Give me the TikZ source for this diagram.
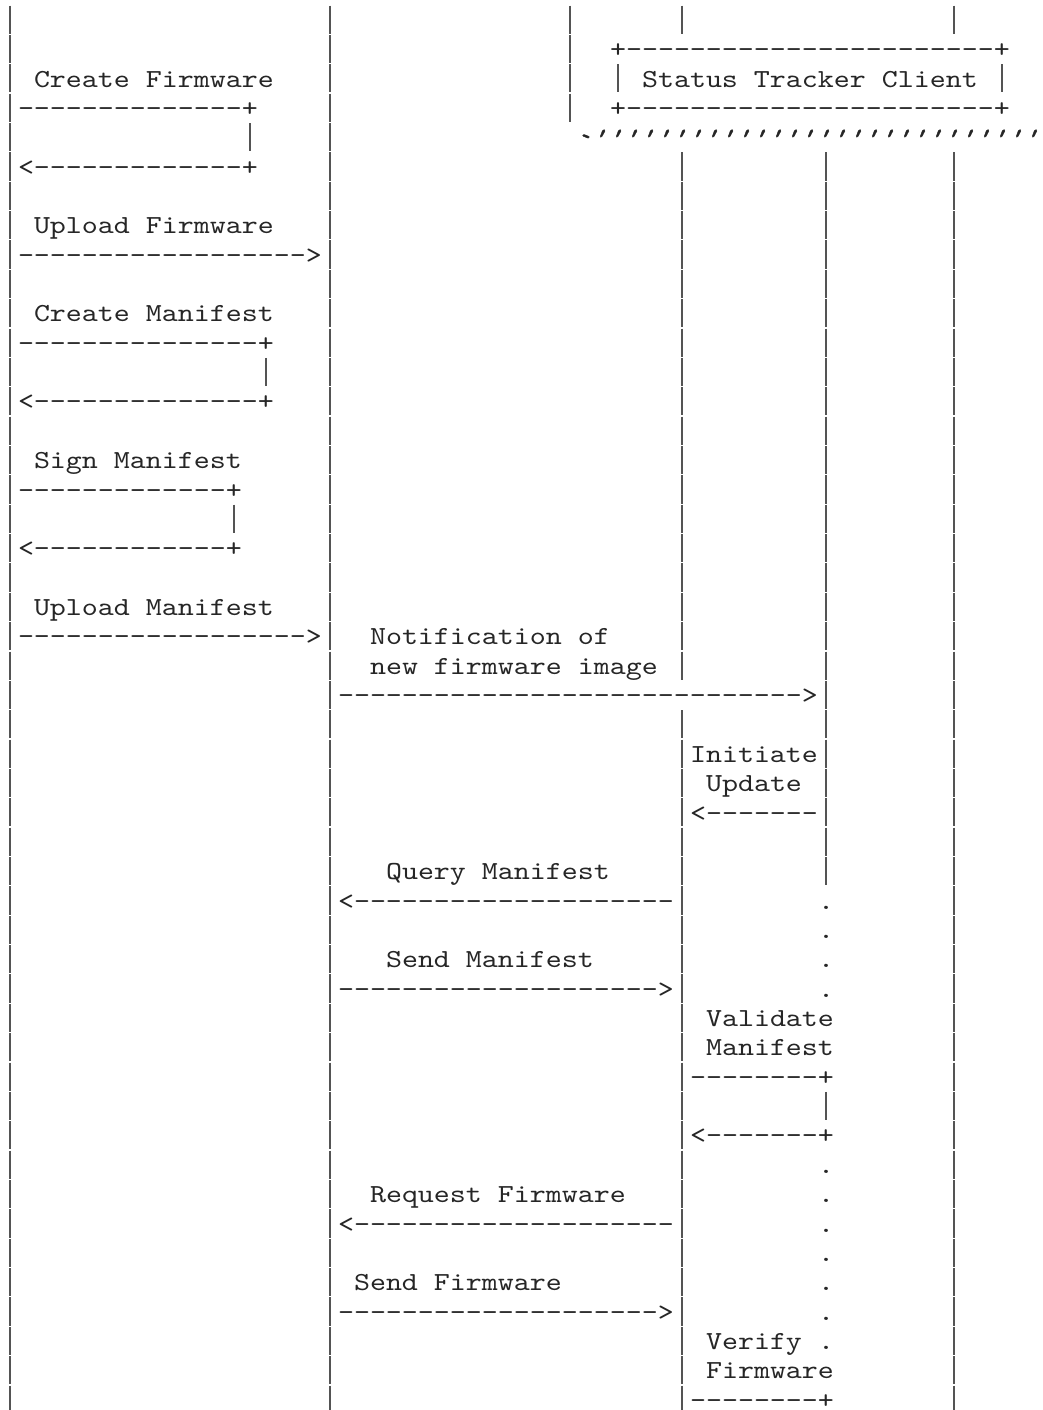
\documentclass[tikz,border=0pt]{standalone}
\usepackage{fontspec}
\setmonofont{lmmono10-regular.otf}[FakeStretch=1.172]
\newfontfamily\ticks{lmmono10-regular.otf}[FakeStretch=1.172,FakeSlant=0.45,FakeBold=1.5]
\newfontfamily\grv{lmmono10-regular.otf}[FakeStretch=1.172,FakeBold=2]
\begin{document}
\begin{tikzpicture}[x=1pt,y=-1pt,
  txt/.style={anchor=base west,inner sep=0pt,outer sep=0pt,
    font=\ttfamily\fontsize{26}{26}\selectfont,text=black!85},
  bar/.style={draw=black!67,line width=2pt}]
% character cell: column c, row r (16 x 29.36 units)
\newcommand\cell[4]{\node[txt] (#1) at ({2+16*#2},{28.3+29.36*#3}) {#4};}
% vertical stroke in column #1 for rows #2..#3
\newcommand\vbar[3]{\foreach \r in {#2,...,#3}{
  \draw[bar] ({10+16*#1},{5.6+29.36*\r}) -- ({10+16*#1},{4.4+29.36*(\r+1)});}}

\fill[white] (0,0) rectangle (1043,1410);
\useasboundingbox (0,0) rectangle (1043,1410);
\clip (0,0) rectangle (1043,1410);

% lifelines and box edges
\vbar{0}{0}{47}
\vbar{20}{0}{47}
\vbar{35}{0}{3}
\vbar{38}{2}{2}
\vbar{62}{2}{2}
\vbar{42}{0}{0}
\vbar{42}{5}{22}
\vbar{42}{24}{47}
\vbar{51}{5}{29}
\vbar{51}{37}{37}
\vbar{59}{0}{0}
\vbar{59}{5}{47}
\vbar{15}{4}{4}
\vbar{16}{12}{12}
\vbar{14}{17}{17}

% status tracker client box and bottom edge of the device box
\cell{stctop}{38}{1}{+-----------------------+}
\cell{stc}{40}{2}{Status Tracker Client}
\cell{stcbot}{38}{3}{+-----------------------+}
\node[txt,font=\grv\fontsize{26}{26}\selectfont] (devbotl)
  at ({2+16*36},{28.3+29.36*4+5}) {`};
\node[txt,font=\ticks\fontsize{26}{26}\selectfont] (devbot)
  at ({2+16*37-5},{28.3+29.36*4}) {''''''''''''''''''''''''''''};

% author steps
\cell{crfw}{2}{2}{Create Firmware}
\cell{crfwa}{1}{3}{--------------+}
\cell{crfwb}{1}{5}{<-------------+}
\cell{upfw}{2}{7}{Upload Firmware}
\cell{upfwa}{1}{8}{------------------>}
\cell{crmf}{2}{10}{Create Manifest}
\cell{crmfa}{1}{11}{---------------+}
\cell{crmfb}{1}{13}{<--------------+}
\cell{sgmf}{2}{15}{Sign Manifest}
\cell{sgmfa}{1}{16}{-------------+}
\cell{sgmfb}{1}{18}{<------------+}
\cell{upmf}{2}{20}{Upload Manifest}
\cell{upmfa}{1}{21}{------------------>}

% notification
\cell{notif}{23}{21}{Notification of}
\cell{notifb}{23}{22}{new firmware image}
\cell{notifa}{21}{23}{----------------------------->}

% device side
\cell{init}{43}{25}{Initiate}
\cell{initb}{44}{26}{Update}
\cell{inita}{43}{27}{<-------}
\cell{qmf}{24}{29}{Query Manifest}
\cell{qmfa}{21}{30}{<--------------------}
\cell{smf}{24}{32}{Send Manifest}
\cell{smfa}{21}{33}{-------------------->}
\cell{vmf}{44}{34}{Validate}
\cell{vmfb}{44}{35}{Manifest}
\cell{vmfa}{43}{36}{--------+}
\cell{vmfc}{43}{38}{<-------+}
\cell{rqfw}{23}{40}{Request Firmware}
\cell{rqfwa}{21}{41}{<--------------------}
\cell{sdfw}{22}{43}{Send Firmware}
\cell{sdfwa}{21}{44}{-------------------->}
\cell{vffw}{44}{45}{Verify}
\cell{vffwb}{44}{46}{Firmware}
\cell{vffwa}{43}{47}{--------+}

% dotted continuation of the status tracker client
\foreach \r in {30,31,32,33,39,40,41,42,43,44,45}{
  \cell{dot\r}{51}{\r}{.}}
\end{tikzpicture}
\end{document}
